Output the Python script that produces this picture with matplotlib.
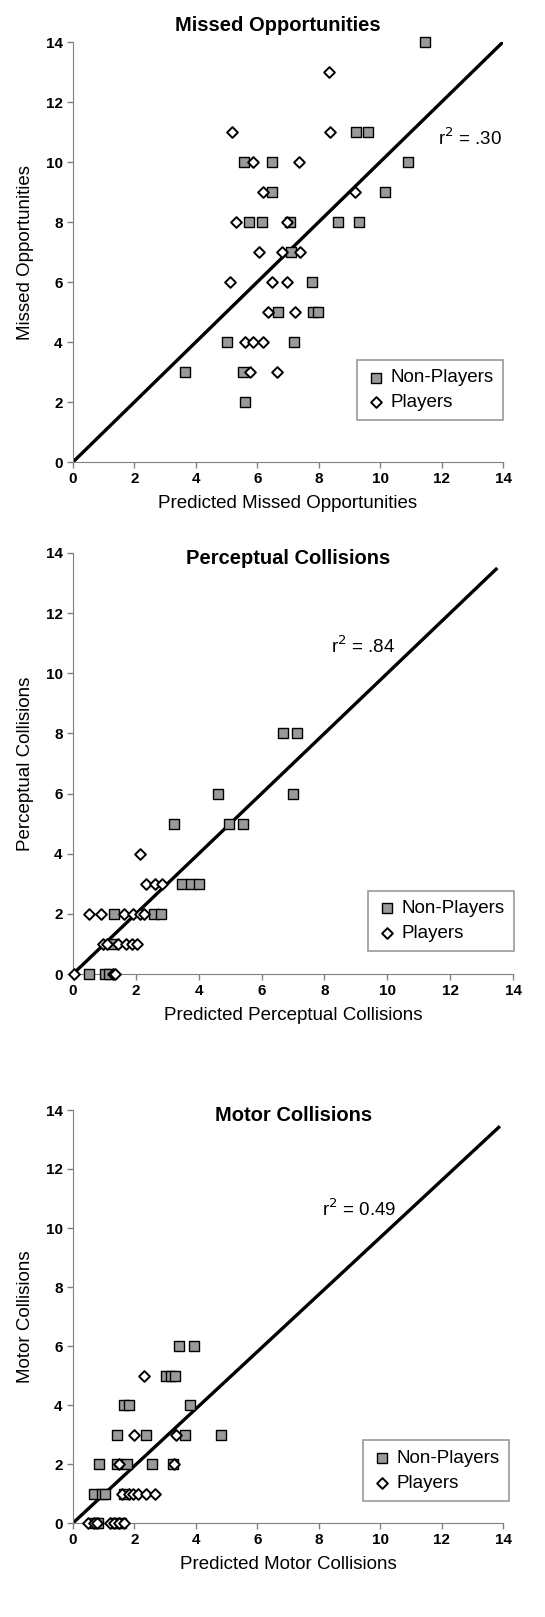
import matplotlib
matplotlib.use("Agg")
import matplotlib.pyplot as plt

plt.rcParams['font.family'] = ['Liberation Sans', 'DejaVu Sans']

# Missed Opportunities
mo_np_x = [11.47, 9.21, 9.59, 5.58, 6.48, 10.90, 6.48, 10.15, 5.72, 6.14, 7.08, 8.62, 9.31,
           7.10, 7.79, 6.66, 7.81, 7.98, 5.02, 7.18, 3.64, 5.54, 5.59]
mo_np_y = [14, 11, 11, 10, 10, 10, 9, 9, 8, 8, 8, 8, 8,
           7, 6, 5, 5, 5, 4, 4, 3, 3, 2]
mo_pl_x = [8.34, 5.18, 8.37, 5.85, 7.36, 6.18, 9.19, 5.32, 6.97, 6.07, 6.80, 7.40,
           5.12, 6.48, 6.97, 6.34, 7.24, 5.61, 5.85, 6.18, 5.75, 6.63]
mo_pl_y = [13, 11, 11, 10, 10, 9, 9, 8, 8, 7, 7, 7,
           6, 6, 6, 5, 5, 4, 4, 4, 3, 3]

# Perceptual Collisions
pc_np_x = [6.67, 7.14, 4.61, 7.00, 3.20, 4.96, 5.42, 3.46, 3.75, 4.01,
           1.29, 2.58, 2.80, 1.25, 0.50, 1.01, 1.15]
pc_np_y = [8, 8, 6, 6, 5, 5, 5, 3, 3, 3,
           2, 2, 2, 1, 0, 0, 0]
pc_pl_x = [2.14, 2.32, 2.62, 2.83, 0.52, 0.89, 1.63, 1.90, 2.14, 2.27,
           0.95, 1.08, 1.43, 1.68, 1.88, 2.03, 0.02, 1.27, 1.35]
pc_pl_y = [4, 3, 3, 3, 2, 2, 2, 2, 2, 2,
           1, 1, 1, 1, 1, 1, 0, 0, 0]

# Motor Collisions
mc_np_x = [3.44, 3.93, 3.03, 3.19, 3.33, 1.65, 1.81, 3.80, 1.43, 2.38, 3.66, 4.83,
           0.86, 1.43, 1.76, 2.57, 3.25, 0.67, 0.94, 1.05, 1.65, 0.72, 0.80, 1.38, 1.55]
mc_np_y = [6, 6, 5, 5, 5, 4, 4, 4, 3, 3, 3, 3,
           2, 2, 2, 2, 2, 1, 1, 1, 1, 0, 0, 0, 0]
mc_pl_x = [2.32, 1.98, 3.35, 1.51, 3.30, 1.60, 1.81, 1.94, 2.10, 2.38, 2.68,
           0.48, 0.68, 0.78, 1.20, 1.32, 1.49, 1.65]
mc_pl_y = [5, 3, 3, 2, 2, 1, 1, 1, 1, 1, 1,
           0, 0, 0, 0, 0, 0, 0]

titles = ["Missed Opportunities", "Perceptual Collisions", "Motor Collisions"]
ylabels = ["Missed Opportunities", "Perceptual Collisions", "Motor Collisions"]
xlabels = ["Predicted Missed Opportunities", "Predicted Perceptual Collisions",
           "Predicted Motor Collisions"]
r2_texts = ["r$^2$ = .30", "r$^2$ = .84", "r$^2$ = 0.49"]
r2_pos = [(11.9, 10.8), (8.2, 10.9), (8.1, 10.65)]
line_x = [[0, 14], [0, 13.5], [0, 13.9]]
line_y = [[0, 14], [0, 13.5], [0, 13.45]]
ticks = [0, 2, 4, 6, 8, 10, 12, 14]

data = [(mo_np_x, mo_np_y, mo_pl_x, mo_pl_y),
        (pc_np_x, pc_np_y, pc_pl_x, pc_pl_y),
        (mc_np_x, mc_np_y, mc_pl_x, mc_pl_y)]

W, H = 545, 1617
# axes boxes in pixels: left, top, right, bottom
boxes = [(73, 42, 503, 462), (73, 553, 513, 974), (73, 1110, 503, 1523)]
legend_anchor = [(0.66, 0.243), (0.67, 0.198), (0.674, 0.20)]
title_pos = [None, (0.49, 0.987), (0.512, 0.986)]

fig = plt.figure(figsize=(W / 100, H / 100), dpi=100)
gray = "#808080"

for i in range(3):
    l, t, r, b = boxes[i]
    ax = fig.add_axes([l / W, 1 - b / H, (r - l) / W, (b - t) / H])
    npx, npy, plx, ply = data[i]
    ax.plot(line_x[i], line_y[i], color="black", linewidth=2.4, zorder=2,
            solid_capstyle="butt")
    ax.scatter(npx, npy, marker="s", s=44, facecolor="#9a9a9a", edgecolor="black",
               linewidth=1.0, label="Non-Players", zorder=3, clip_on=False)
    ax.scatter(plx, ply, marker="D", s=30, facecolor="white", edgecolor="black",
               linewidth=1.4, label="Players", zorder=3, clip_on=False)
    ax.set_xlim(0, 14)
    ax.set_ylim(0, 14)
    ax.set_xticks(ticks)
    ax.set_yticks(ticks)
    for lab in ax.get_xticklabels() + ax.get_yticklabels():
        lab.set_fontweight("bold")
        lab.set_fontsize(11)
    ax.tick_params(direction="out", length=4, color=gray, width=1)
    ax.spines["top"].set_visible(False)
    ax.spines["right"].set_visible(False)
    ax.spines["left"].set_color(gray)
    ax.spines["bottom"].set_color(gray)
    ax.set_xlabel(xlabels[i], fontsize=13.5, labelpad=6)
    ax.set_ylabel(ylabels[i], fontsize=13.5, labelpad=8)
    if title_pos[i] is None:
        ax.set_title(titles[i], fontsize=14.5, fontweight="bold", pad=8, x=0.477)
    else:
        ax.text(title_pos[i][0], title_pos[i][1], titles[i], transform=ax.transAxes,
                ha="center", va="center", fontsize=14.5, fontweight="bold")
    ax.text(r2_pos[i][0], r2_pos[i][1], r2_texts[i], fontsize=13.5, ha="left", va="center")
    leg = ax.legend(loc="upper left", bbox_to_anchor=legend_anchor[i], borderaxespad=0,
                    fontsize=13.5, fancybox=False, edgecolor=gray, handletextpad=0.3,
                    handlelength=1.0, borderpad=0.5, labelspacing=0.4)
    leg.get_frame().set_linewidth(1.2)

fig.savefig("out.png", dpi=100)
